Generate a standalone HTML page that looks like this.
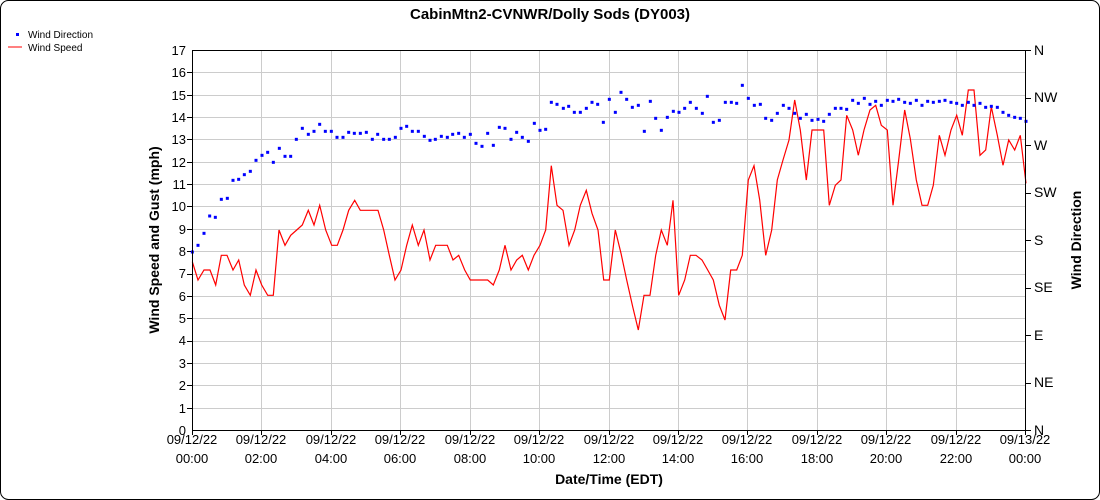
<!DOCTYPE html>
<html><head><meta charset="utf-8"><style>
body{margin:0;background:#fff;}
svg{display:block;font-family:"Liberation Sans",Arial,sans-serif;}
</style></head><body>
<svg id="s" width="1100" height="500" xmlns="http://www.w3.org/2000/svg">
<rect x="0.5" y="0.5" width="1099" height="499" rx="8" fill="#fff" stroke="#000"/>
<text x="550" y="19" font-size="15" font-weight="bold" text-anchor="middle">CabinMtn2-CVNWR/Dolly Sods (DY003)</text>
<rect x="16" y="33" width="3" height="3" fill="#00f"/>
<text x="28" y="38" font-size="10">Wind Direction</text>
<line x1="8" y1="47" x2="22" y2="47" stroke="red"/>
<text x="28" y="51" font-size="10">Wind Speed</text>
<g id="grid" stroke="#ccc" stroke-width="1"></g>
<g id="ticks" font-size="13"></g>
<polyline id="red" fill="none" stroke="red" stroke-width="1.2"/>
<g id="dots" fill="#00f"></g>
<line x1="192.5" y1="50" x2="192.5" y2="430" stroke="#000"/>
<line x1="1025.5" y1="50" x2="1025.5" y2="430" stroke="#000"/>
<line x1="192" y1="50.5" x2="1026" y2="50.5" stroke="#000"/>
<line x1="192" y1="430.5" x2="1026" y2="430.5" stroke="#000"/>
<text transform="translate(159,240) rotate(-90)" font-size="14" font-weight="bold" text-anchor="middle">Wind Speed and Gust (mph)</text>
<text transform="translate(1081,240) rotate(-90)" font-size="14" font-weight="bold" text-anchor="middle">Wind Direction</text>
<text x="609" y="484" font-size="14" font-weight="bold" text-anchor="middle">Date/Time (EDT)</text>
<g font-size="13" text-anchor="end">
<text x="186" y="55">17</text><text x="186" y="77">16</text><text x="186" y="100">15</text><text x="186" y="122">14</text><text x="186" y="144">13</text><text x="186" y="167">12</text><text x="186" y="189">11</text><text x="186" y="211">10</text><text x="186" y="234">9</text><text x="186" y="256">8</text><text x="186" y="278">7</text><text x="186" y="301">6</text><text x="186" y="323">5</text><text x="186" y="345">4</text><text x="186" y="368">3</text><text x="186" y="390">2</text><text x="186" y="413">1</text><text x="186" y="435">0</text>
</g>
<g font-size="14">
<text x="1034" y="55">N</text><text x="1034" y="102">NW</text><text x="1034" y="150">W</text><text x="1034" y="197">SW</text><text x="1034" y="245">S</text><text x="1034" y="292">SE</text><text x="1034" y="340">E</text><text x="1034" y="387">NE</text><text x="1034" y="435">N</text>
</g>
<g font-size="13" text-anchor="middle">
<text x="192" y="444">09/12/22</text><text x="192" y="463">00:00</text>
<text x="261" y="444">09/12/22</text><text x="261" y="463">02:00</text>
<text x="331" y="444">09/12/22</text><text x="331" y="463">04:00</text>
<text x="400" y="444">09/12/22</text><text x="400" y="463">06:00</text>
<text x="470" y="444">09/12/22</text><text x="470" y="463">08:00</text>
<text x="539" y="444">09/12/22</text><text x="539" y="463">10:00</text>
<text x="609" y="444">09/12/22</text><text x="609" y="463">12:00</text>
<text x="678" y="444">09/12/22</text><text x="678" y="463">14:00</text>
<text x="747" y="444">09/12/22</text><text x="747" y="463">16:00</text>
<text x="817" y="444">09/12/22</text><text x="817" y="463">18:00</text>
<text x="886" y="444">09/12/22</text><text x="886" y="463">20:00</text>
<text x="956" y="444">09/12/22</text><text x="956" y="463">22:00</text>
<text x="1025" y="444">09/13/22</text><text x="1025" y="463">00:00</text>
</g>
</svg>
<script>
var NS="http://www.w3.org/2000/svg";
function el(t,a,p){var e=document.createElementNS(NS,t);for(var k in a)e.setAttribute(k,a[k]);document.getElementById(p).appendChild(e);}
for(var i=1;i<17;i++){var y=Math.round(430-i*380/17)+0.5;el("line",{x1:192,x2:1026,y1:y,y2:y},"grid");el("line",{x1:187,x2:192,y1:y,y2:y,stroke:"#000"},"grid");}
for(var i=1;i<12;i++){var x=Math.round(192+i*833/12)+0.5;el("line",{x1:x,x2:x,y1:50,y2:430},"grid");}
for(var i=0;i<=12;i++){var x=Math.round(192+i*833/12)+0.5;el("line",{x1:x,x2:x,y1:430,y2:435,stroke:"#000"},"grid");}
for(var i=0;i<=8;i++){var y=Math.round(50+i*47.5)+0.5;el("line",{x1:1026,x2:1031,y1:y,y2:y,stroke:"#000"},"grid");}
var r=[192.3,261.7,198,280,204,270,210,270,215.7,285,221.3,255.3,227,255.3,233,270,238.7,260,244.3,285,250.3,295.3,256,270,261.7,285,267.7,295.3,273.3,295.3,279,230,285,245.3,290.7,235.3,296.7,230,302.3,225,308.3,210.3,314,225,319.7,205.3,325.7,230,331.7,245.3,337.3,245.3,343,230,348.7,210.3,354.7,200.3,360.3,210.3,366,210.3,372,210.3,378,210.3,383.7,230,389.3,255.3,395,280,401,270,406.7,245.3,412.3,225,418.3,245.3,424,230,430,260,435.7,245.3,441.3,245.3,447.3,245.3,453,260,458.7,255.3,464.7,270,470.3,280,476,280,482,280,487.7,280,493.3,285,499.3,270,505,245.3,511,270,516.7,260,522.3,255.3,528.3,270,534,255.3,540,245.3,545.7,230,551.3,165.7,557,205.3,563,210.3,569,245.3,574.7,230,580.3,205.3,586.3,190.3,592,213.3,598,230,603.7,280,609.3,280,615.3,230,621,253.3,626.7,280,632.7,306.7,638.3,330,644,295.3,650,295.3,655.7,255.3,661.3,230,667.3,245.3,673,200.3,678.7,295.3,684.7,280,690.3,255.3,696,255.3,702,260,707.7,270,713.3,280,719.3,305.3,725,320,730.7,270,736.7,270,742.3,255.3,748.3,180,754,165.7,759.7,200,765.7,255.3,771.7,230,777.3,180,783,160,789,140,794.7,100,800.3,130,806.3,180,812,130,818,130,823.7,130,829.3,205.3,835.3,185.3,841,180,846.7,115.3,852.7,130,858.3,155.3,864,130,870,110,875.7,105.3,881.3,125.3,887.3,130,893,205.3,898.7,160,904.7,110,910.3,138.7,916.3,180,922,205.3,927.7,205.3,933.3,185.3,939.3,135.3,945,155.3,951,130,956.7,115.3,962.3,135.3,968.3,90,974,90,980,155.3,985.7,150,991.3,106.7,997.3,135.3,1003,165.3,1008.7,140,1014.7,150,1020.3,135.3,1026,183.3];
var pts=[];for(var i=0;i<r.length;i+=2)pts.push(r[i]+","+r[i+1]);document.getElementById("red").setAttribute("points",pts.join(" "));
var b1=[37,636,54,616,72,580,89,528,106,532,124,478,142,475,159,421,176,418,193,404,211,394,228,361,246,346,263,337,280,367,298,325,315,349,332,349,349,298,367,265,385,283,402,274,419,253,436,274,454,274,471,292,489,292,506,277,523,280,541,280,559,277,577,298,593,283,611,298,628,298,646,292,663,265,680,259,697,274,715,274,733,289,750,301,766,298,784,289,802,292,818,283,836,280,853,292,871,283,888,310,906,319,923,280,940,316,958,262,975,265,993,298,1010,277,1027,292,1045,304,1063,250,1080,271,1097,268,1114,187,1131,193];
var b2=[100,205,116,199,133,217,151,217,169,205,186,187,203,193,220,247,238,178,256,217,273,157,290,178,307,202,325,196,343,274,361,184,377,235,394,271,412,232,430,214,447,217,464,205,481,187,499,205,517,220,532,169,550,247,568,241,586,187,604,187,620,190,637,136,655,175,673,196,691,193];
var b3=[17,235,35,241,52,220,70,196,87,205,104,220,121,235,139,223,156,241,174,238,191,244,208,223,226,205,243,205,260,208,278,181,295,190,313,175,330,193,347,184,364,196,382,181,399,184,416,178,434,187,451,190,469,181,486,196,503,184,520,187,538,184,555,181,573,187,590,190,607,196,625,187,642,196,660,190,677,202,694,199,712,202,729,217,746,226,764,232,781,235,798,244];
function dots(a,ox){for(var i=0;i<a.length;i+=2){el("rect",{x:ox+a[i]/3-1.5,y:40+a[i+1]/3-1.5,width:3,height:3},"dots");}}
dots(b1,180);dots(b2,530);dots(b3,760);
</script>
</body></html>
